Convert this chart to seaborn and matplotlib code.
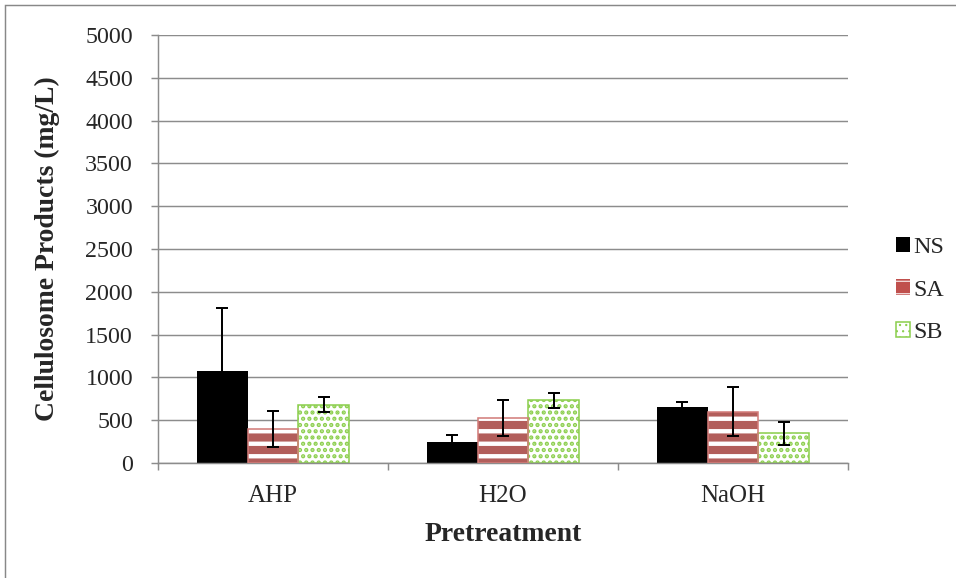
import pandas as pd
import matplotlib.pyplot as plt
import seaborn as sns
from matplotlib.patches import Patch, Rectangle

# values
categories = ['AHP', 'H2O', 'NaOH']
series = ['NS', 'SA', 'SB']
ns_vals = [1075, 245, 660]
sa_vals = [395, 530, 600]
sb_vals = [680, 735, 345]
ns_err = [730, 77, 58]
sa_err = [210, 210, 285]
sb_err = [88, 87, 138]
y_ticks = list(range(0, 5001, 500))

red = '#C0504D'
red_edge = '#D27C79'
green = '#8DCF4F'
grid_grey = '#8C8C8C'

df = pd.DataFrame({
    'Pretreatment': categories * 3,
    'series': [s for s in series for _ in categories],
    'value': ns_vals + sa_vals + sb_vals,
})
errs = [ns_err, sa_err, sb_err]

sns.set_style('white')
plt.rcParams['font.family'] = ['Liberation Serif', 'DejaVu Serif']

dpi = 75
fig = plt.figure(figsize=(956 / dpi, 578 / dpi), dpi=dpi)
ax = fig.add_axes([158 / 956, 1 - 463 / 578, 690 / 956, 428 / 578])

sns.barplot(data=df, x='Pretreatment', y='value', hue='series',
            palette=['black', red, 'white'], width=0.665, gap=0,
            errorbar=None, legend=False, ax=ax, zorder=2)

# patterns: SA red with white stripes, SB white with green dots
for cont, s in zip(ax.containers, series):
    for p in cont:
        if s == 'SA':
            p.set_hatch('-')
            p.set_edgecolor('white')
            p.set_linewidth(0)
            if hasattr(p, 'set_hatch_linewidth'):
                p.set_hatch_linewidth(4.2)
            # red outline on top of the stripes
            ax.add_patch(Rectangle(p.get_xy(), p.get_width(), p.get_height(),
                                   fill=False, edgecolor=red_edge,
                                   linewidth=1.5, zorder=3))
        elif s == 'SB':
            p.set_hatch('..')
            p.set_edgecolor(green)
            p.set_linewidth(1.5)
            if hasattr(p, 'set_hatch_linewidth'):
                p.set_hatch_linewidth(2.8)
        else:
            p.set_edgecolor('black')
            p.set_linewidth(0)

# error bars
for cont, e in zip(ax.containers, errs):
    xs = [p.get_x() + p.get_width() / 2 for p in cont]
    ys = [p.get_height() for p in cont]
    ax.errorbar(xs, ys, yerr=e, fmt='none', ecolor='black',
                elinewidth=1.9, capsize=6, capthick=1.9, zorder=4)

ax.set_ylim(0, 5000)
ax.set_xlim(-0.5, 2.5)
ax.set_yticks(y_ticks)
ax.yaxis.grid(True, color=grid_grey, linewidth=1.4, zorder=0)
ax.set_axisbelow(True)
for side in ['top', 'right']:
    ax.spines[side].set_visible(False)
for side in ['left', 'bottom']:
    ax.spines[side].set_color(grid_grey)
    ax.spines[side].set_linewidth(1.4)

ax.tick_params(axis='y', which='major', left=True, length=7, width=1.4,
               color=grid_grey, labelsize=23, pad=17)
ax.set_xticks([-0.5, 0.5, 1.5, 2.5], minor=True)
ax.tick_params(axis='x', which='minor', bottom=True, length=7, width=1.4,
               color=grid_grey)
ax.tick_params(axis='x', which='major', bottom=False, labelsize=24, pad=18)

ax.set_ylabel('Cellulosome Products (mg/L)', fontsize=26.5, fontweight='bold', labelpad=24)
ax.set_xlabel('Pretreatment', fontsize=26.5, fontweight='bold', labelpad=14)

handles = [
    Patch(facecolor='black', edgecolor='black', linewidth=0, label='NS'),
    Patch(facecolor=red, edgecolor='white', hatch='-', linewidth=0, label='SA'),
    Patch(facecolor='white', edgecolor=green, hatch='..', linewidth=1.5, label='SB'),
]
fig.legend(handles=handles, loc='center left', bbox_to_anchor=(886 / 956, 1 - 290 / 578),
           frameon=False, fontsize=23, handlelength=0.6, handleheight=0.6,
           handletextpad=0.15, labelspacing=0.9, borderaxespad=0)

# outer chart frame
fig.patches.append(Rectangle((5 / 956, -0.1), 1.1, 1.1 - 5 / 578,
                             transform=fig.transFigure, fill=False,
                             edgecolor='#888888', linewidth=1.4))

fig.savefig('out.png', dpi=dpi)
